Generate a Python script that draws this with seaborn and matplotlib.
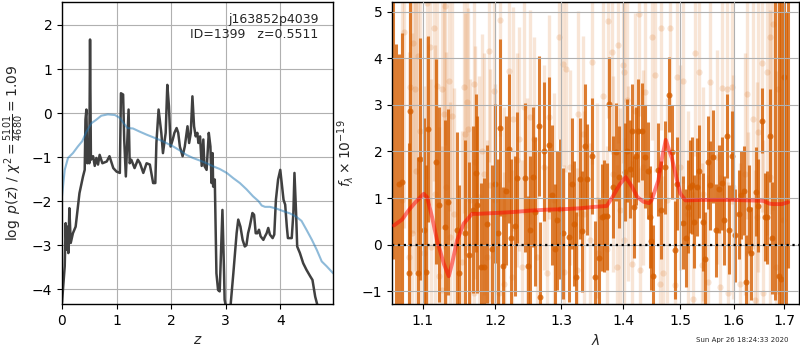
import numpy as np
import pandas as pd
import matplotlib
matplotlib.use("Agg")
import matplotlib.pyplot as plt
import matplotlib.ticker as mticker
import seaborn as sns

# ---- redshift PDF panel -------------------------------------------------
z_grid = [0.0, 0.05, 0.067, 0.085, 0.104, 0.116, 0.135, 0.16, 0.2, 0.25, 0.32, 0.385,
          0.416, 0.43, 0.447, 0.465, 0.49, 0.5, 0.514, 0.53, 0.57, 0.6, 0.63, 0.66,
          0.69, 0.74, 0.82, 0.87, 0.94, 1.0, 1.06, 1.08, 1.12, 1.14, 1.17, 1.19, 1.22,
          1.24, 1.27, 1.33, 1.39, 1.43, 1.49, 1.55, 1.61, 1.67, 1.71, 1.73, 1.77, 1.82,
          1.85, 1.9, 1.93, 1.96, 1.99, 2.03, 2.06, 2.1, 2.13, 2.16, 2.21, 2.25, 2.3,
          2.33, 2.36, 2.39, 2.42, 2.45, 2.48, 2.5, 2.53, 2.56, 2.59, 2.61, 2.65, 2.69,
          2.72, 2.74, 2.76, 2.77, 2.8, 2.83, 2.86, 2.89, 2.91, 2.94, 2.97, 2.98, 3.02,
          3.08, 3.14, 3.2, 3.23, 3.27, 3.31, 3.35, 3.38, 3.41, 3.44, 3.49, 3.52, 3.55,
          3.58, 3.61, 3.64, 3.69, 3.72, 3.75, 3.78, 3.81, 3.86, 3.89, 3.92, 3.96, 4.0,
          4.03, 4.06, 4.09, 4.12, 4.14, 4.18, 4.21, 4.24, 4.26, 4.29, 4.31, 4.36, 4.42,
          4.48, 4.55, 4.59, 4.64, 4.68, 4.72]
log_pz = [-4.3, -3.48, -2.5, -3.1, -2.58, -3.18, -2.16, -2.95, -2.73, -2.58, -1.82, -1.44,
          -1.29, -0.15, 0.08, -1.14, -0.6, -1.14, 1.67, -1.06, -0.98, -1.2, -1.02, -1.17,
          -0.95, -1.14, -1.1, -0.98, -1.25, -1.33, -1.36, 0.45, 0.42, -0.6, -1.44, -0.83, 0.08,
          -1.14, -1.06, -1.25, -1.06, -1.14, -1.36, -1.14, -1.17, -1.59, -1.59, -0.68, 0.08, -0.45,
          -0.91, -0.45, 0.64, 0.15, -0.76, -0.6, -0.45, -0.34, -0.45, -0.76, -0.98, -0.76, -0.3,
          -0.68, -0.45, 0.38, -0.3, -0.53, -0.45, -0.68, -0.53, -1.2, -0.6, -1.2, -1.29, -0.45,
          -0.76, -1.59, -0.91, -1.67, -1.51, -3.64, -4.02, -4.05, -3.33, -2.2, -3.64, -4.24, -4.5,
          -4.5, -3.64, -2.73, -2.42, -2.58, -2.88, -3.03, -3.0, -2.73, -2.58, -2.27, -2.31, -2.73,
          -2.73, -2.65, -2.8, -2.88, -2.8, -2.73, -2.61, -2.76, -2.84, -2.76, -1.97, -1.51, -1.29,
          -1.63, -1.97, -2.08, -2.58, -2.84, -2.84, -2.84, -2.27, -1.36, -2.27, -3.03, -3.18, -3.41,
          -3.56, -3.71, -3.79, -4.17, -4.36, -4.6]

z_prior = [0.0, 0.05, 0.11, 0.2, 0.29, 0.37, 0.45, 0.54, 0.63, 0.72, 0.84, 0.97, 1.06,
           1.13, 1.2, 1.3, 1.42, 1.55, 1.67, 1.79, 1.91, 2.04, 2.16, 2.28, 2.4, 2.53,
           2.65, 2.77, 2.89, 3.02, 3.14, 3.26, 3.38, 3.5, 3.6, 3.66, 3.72, 3.81, 3.93,
           4.06, 4.18, 4.3, 4.39, 4.48, 4.58, 4.67, 4.76, 4.85, 4.97]
log_prior = [-1.89, -1.29, -1.02, -0.91, -0.76, -0.64, -0.42, -0.23, -0.15, -0.06, -0.03,
             -0.045, -0.11, -0.23, -0.34, -0.35, -0.42, -0.49, -0.55, -0.61, -0.68, -0.76,
             -0.85, -0.95, -1.02, -1.08, -1.14, -1.21, -1.27, -1.36, -1.48, -1.59, -1.73,
             -1.89, -2.0, -2.1, -2.13, -2.13, -2.17, -2.23, -2.28, -2.36, -2.45, -2.65,
             -2.88, -3.11, -3.37, -3.48, -3.64]

# ---- 1D spectrum panel ---------------------------------------------------
binned_wave = [1.0615, 1.0655, 1.0690, 1.0722, 1.0825, 1.0838, 1.0934, 1.0960, 1.1013, 1.1049,
               1.1075, 1.1182, 1.1214, 1.1305, 1.1336, 1.1464, 1.1487, 1.1579, 1.1626, 1.1686,
               1.1728, 1.1747, 1.1799, 1.1847, 1.1885, 1.1962, 1.1995, 1.2043, 1.2067, 1.2111,
               1.2159, 1.2203, 1.2228, 1.2287, 1.2321, 1.2435, 1.2480, 1.2521, 1.2556, 1.2596,
               1.2646, 1.2672, 1.2728, 1.2810, 1.2846, 1.2892, 1.2933, 1.2980, 1.3032, 1.3111,
               1.3164, 1.3190, 1.3233, 1.3286, 1.3329, 1.3377, 1.3414, 1.3495, 1.3543, 1.3598,
               1.3647, 1.3685, 1.3729, 1.3773, 1.3829, 1.3879, 1.3929, 1.4041, 1.4063, 1.4120,
               1.4148, 1.4188, 1.4216, 1.4262, 1.4319, 1.4377, 1.4434, 1.4463, 1.4475, 1.4521,
               1.4609, 1.4656, 1.4727, 1.4798, 1.4846, 1.4905, 1.4947, 1.5043, 1.5097, 1.5134,
               1.5176, 1.5207, 1.5256, 1.5299, 1.5342, 1.5410, 1.5453, 1.5502, 1.5552, 1.5608,
               1.5658, 1.5709, 1.5765, 1.5816, 1.5866, 1.5910, 1.5962, 1.6027, 1.6091, 1.6137,
               1.6188, 1.6234, 1.6299, 1.6338, 1.6424, 1.6476, 1.6555, 1.6608, 1.6655, 1.6715,
               1.6761, 1.6809, 1.6890, 1.6931, 1.6993, 1.7040, 1.7074]
binned_flux = [6.2, -2.2, 1.30, 1.34, -0.62, 2.86, -0.62, 1.84, 0.31, -0.59,
               2.49, 1.78, 0.86, 0.38, 0.91, 0.31, -0.62, 0.24, -0.23, 0.75,
               1.54, 0.86, -0.48, -0.48, 0.45, -0.09, 1.31, 0.24, 2.51, -0.46,
               1.16, 2.06, 0.14, 0.40, 1.44, 1.44, -0.46, 0.31, 1.45, 0.71,
               2.55, -1.12, 2.00, 2.14, 1.07, -0.10, 0.52, 0.77, 0.24, 0.16,
               1.31, 0.45, -0.69, 1.41, 0.29, 2.11, 1.40, 1.91, -0.69, -0.28,
               0.59, 0.61, 0.61, 3.02, 1.24, 1.99, 1.45, 1.56, 2.02, 1.63,
               2.45, 0.81, 1.91, 2.45, 2.43, 1.89, 1.59, 0.59, 0.07, -0.68,
               1.61, 0.75, 1.66, 3.22, 1.99, -0.11, 1.31, 0.47, 0.14, 0.81,
               1.24, 1.27, 0.49, 1.24, 1.58, 0.49, -0.30, 1.77, 1.27, 1.89,
               0.31, 1.20, 1.32, 0.52, 2.34, 0.32, 1.91, 0.20, 0.65, 1.06,
               1.16, -0.80, 0.77, -0.19, 1.14, 0.83, 2.66, 0.59, 0.59, 2.34,
               0.14, 5.8, -0.68, -0.75, 3.59, -2.0, 6.5]
binned_err = [6.5, 6.5, 2.8, 3.2, 2.8, 2.9, 2.5, 2.6, 2.4, 2.3,
              2.0, 2.2, 2.1, 2.3, 2.0, 2.1, 1.9, 2.0, 2.0, 1.8,
              1.7, 1.9, 1.8, 1.9, 1.7, 1.8, 1.7, 1.6, 1.9, 1.7,
              1.6, 1.6, 1.7, 1.5, 1.4, 1.6, 1.5, 1.6, 1.5, 1.6,
              1.5, 1.6, 1.5, 1.45, 1.5, 1.4, 1.5, 1.5, 1.4, 1.4,
              1.4, 1.35, 1.4, 1.3, 1.3, 1.35, 1.2, 1.25, 1.2, 1.25,
              1.15, 1.2, 1.15, 1.0, 1.1, 1.05, 1.1, 1.05, 1.1, 1.05,
              1.0, 1.1, 1.05, 1.1, 1.05, 1.1, 1.05, 1.1, 1.05, 1.1,
              1.0, 1.05, 1.0, 0.8, 1.0, 1.05, 1.0, 1.0, 1.05, 1.0,
              1.0, 1.05, 1.0, 1.05, 1.0, 1.05, 1.0, 1.0, 0.95, 1.0,
              1.0, 0.95, 1.0, 0.95, 0.9, 0.95, 0.95, 1.0, 0.95, 0.95,
              0.95, 1.0, 0.95, 1.0, 0.95, 1.0, 0.7, 0.95, 1.0, 1.0,
              1.2, 7.0, 6.0, 6.0, 6.0, 7.0, 7.0]

pixel_wave = [1.0731, 1.0752, 1.0816, 1.0838, 1.0860, 1.0869, 1.0904, 1.0910, 1.0934, 1.0960,
              1.1013, 1.1058, 1.1060, 1.1102, 1.1104, 1.1147, 1.1169, 1.1191, 1.1214, 1.1259,
              1.1261, 1.1282, 1.1305, 1.1307, 1.1350, 1.1372, 1.1395, 1.1418, 1.1533, 1.1556,
              1.1579, 1.1603, 1.1612, 1.1649, 1.1695, 1.1697, 1.1719, 1.1766, 1.1813, 1.1837,
              1.1885, 1.1909, 1.1933, 1.1981, 1.2005, 1.2053, 1.2077, 1.2125, 1.2127, 1.2198,
              1.2248, 1.2262, 1.2321, 1.2345, 1.2395, 1.2420, 1.2470, 1.2521, 1.2571, 1.2621,
              1.2723, 1.2774, 1.2799, 1.2877, 1.2954, 1.3032, 1.3034, 1.3074, 1.3138, 1.3243,
              1.3259, 1.3334, 1.3350, 1.3457, 1.3495, 1.3565, 1.3592, 1.3663, 1.3729, 1.3756,
              1.3812, 1.3840, 1.3896, 1.3924, 1.3951, 1.4007, 1.4009, 1.4015, 1.4063, 1.4092,
              1.4148, 1.4205, 1.4279, 1.4290, 1.4348, 1.4377, 1.4492, 1.4551, 1.4639, 1.4656,
              1.4698, 1.4757, 1.4816, 1.4905, 1.4935, 1.4995, 1.5055, 1.5146, 1.5237, 1.5268,
              1.5348, 1.5391, 1.5422, 1.5515, 1.5546, 1.5671, 1.5733, 1.5765, 1.5860, 1.5891,
              1.5955, 1.5988, 1.6117, 1.6215, 1.6247, 1.6280, 1.6378, 1.6411, 1.6443, 1.6476,
              1.6542, 1.6575, 1.6642, 1.6708, 1.6710, 1.6775, 1.6842, 1.6876, 1.6945, 1.6979]
pixel_flux = [0.95, 4.56, -0.26, 3.38, 0.24, 4.34, 3.34, 1.59, 4.06, 2.45,
              -0.19, 5.20, 0.95, 4.24, -0.05, 4.66, 1.09, 3.41, -0.68, 3.34,
              -0.98, 2.81, 5.13, 1.24, 3.52, 0.16, 2.77, 0.66, -0.37, 3.38,
              2.38, 3.06, 2.49, 0.95, 3.45, -1.05, 1.77, 1.02, 2.02, 1.52,
              -0.26, 4.17, 1.27, 3.31, 0.95, -1.05, 4.83, -0.84, 0.66, 3.74,
              -0.69, 2.70, 1.81, 2.27, -0.48, 2.95, 0.74, 2.74, 2.27, -0.26,
              1.66, -0.62, 2.74, 0.95, 4.46, 3.88, -0.59, 3.77, 1.66, -0.55,
              2.81, 2.38, 0.66, 0.09, 3.93, 0.95, -0.19, 3.20, -0.09, 4.81,
              4.14, 1.52, -0.48, 4.29, 0.74, 3.86, 0.09, 3.70, 3.11, 1.31,
              -0.41, 2.88, 4.96, -0.55, 1.66, 3.27, 4.45, 3.65, -0.84, 4.66,
              -0.62, 0.95, 4.65, -0.87, 3.59, 1.66, 3.52, 0.66, -1.16, 4.11,
              3.70, -0.44, 1.09, -0.80, 3.49, 1.88, -0.91, 3.36, 3.34, -1.05,
              3.38, 1.24, -0.84, 1.52, 3.24, -0.19, 2.70, -1.19, 0.59, 2.41,
              3.91, -1.05, 3.70, 4.45, 1.45, 4.74, -0.48, 3.34, 5.09, 0.52]
pixel_err = [4.5, 4.2, 4.4, 4.0, 4.3, 4.1, 3.9, 4.0, 3.8, 3.7,
             3.6, 3.8, 3.5, 3.4, 3.6, 3.3, 3.2, 3.1, 3.2, 3.0,
             3.1, 2.9, 3.0, 2.9, 2.8, 2.9, 2.8, 2.7, 2.8, 2.7,
             2.6, 2.7, 2.6, 2.6, 2.7, 2.6, 2.5, 2.6, 2.5, 2.6,
             2.5, 2.4, 2.5, 2.4, 2.5, 2.4, 2.5, 2.4, 2.3, 2.4,
             2.3, 2.4, 2.3, 2.4, 2.3, 2.3, 2.4, 2.3, 2.2, 2.3,
             2.2, 2.3, 2.2, 2.3, 2.2, 2.2, 2.3, 2.2, 2.1, 2.2,
             2.2, 2.1, 2.2, 2.1, 2.2, 2.1, 2.2, 2.1, 2.2, 2.1,
             2.2, 2.1, 2.2, 2.1, 2.2, 2.1, 2.2, 2.1, 2.2, 2.1,
             2.2, 2.1, 2.2, 2.2, 2.1, 2.2, 2.2, 2.1, 2.2, 2.2,
             2.1, 2.2, 2.2, 2.2, 2.1, 2.2, 2.2, 2.2, 2.3, 2.2,
             2.3, 2.2, 2.3, 2.3, 2.2, 2.3, 2.4, 2.3, 2.4, 2.4,
             2.5, 2.4, 2.6, 2.6, 2.7, 2.6, 2.8, 2.8, 2.9, 3.0,
             3.2, 3.3, 3.5, 3.8, 3.6, 4.0, 4.2, 4.4, 4.6, 4.5]

model_wave = [1.0624, 1.0731, 1.0816, 1.0904, 1.1013, 1.1058, 1.1124, 1.1191, 1.1282, 1.1350,
              1.1395, 1.1464, 1.1556, 1.1672, 1.1742, 1.2029, 1.2272, 1.2521, 1.2774, 1.3032,
              1.3296, 1.3522, 1.3729, 1.3823, 1.3950, 1.4046, 1.4150, 1.4245, 1.4350, 1.4446,
              1.4490, 1.4609, 1.4680, 1.4740, 1.4850, 1.4941, 1.5000, 1.5091, 1.5400, 1.5700,
              1.5962, 1.6300, 1.6575, 1.6700, 1.6775, 1.6950, 1.7080]
model_flux = [0.41, 0.54, 0.74, 0.91, 1.09, 1.02, 0.59, 0.09, -0.41, -0.68,
              -0.41, 0.09, 0.45, 0.66, 0.66, 0.68, 0.70, 0.73, 0.75, 0.76,
              0.78, 0.81, 0.83, 1.02, 1.30, 1.45, 1.25, 1.02, 0.92, 0.89,
              0.95, 1.38, 1.90, 2.25, 1.85, 1.38, 1.10, 0.95, 0.96, 0.96,
              0.96, 0.95, 0.94, 0.88, 0.87, 0.87, 0.91]

wave_ticks = [1.1, 1.2, 1.3, 1.4, 1.5, 1.6, 1.7]
title_lines = ["j163852p4039", "ID=1399   z=0.5511"]
stamp = "Sun Apr 26 18:24:33 2020"

# ---- figure --------------------------------------------------------------
sns.set_style("ticks")
plt.rcParams["font.family"] = ["DejaVu Sans"]
plt.rcParams["axes.edgecolor"] = "black"
plt.rcParams["xtick.color"] = "black"
plt.rcParams["ytick.color"] = "black"

fig = plt.figure(figsize=(8, 3.5), dpi=100)
ax_z = fig.add_axes([0.0775, 0.131, 0.339, 0.863])
ax_s = fig.add_axes([0.49, 0.131, 0.509, 0.863])

grism = (0.835, 0.369, 0.0)

# p(z)
pz_df = pd.DataFrame({"z": z_grid, "lnp": log_pz})
prior_df = pd.DataFrame({"z": z_prior, "lnp": log_prior})
sns.lineplot(data=pz_df, x="z", y="lnp", ax=ax_z, color="0.25", lw=1.8,
             sort=False, estimator=None)
sns.lineplot(data=prior_df, x="z", y="lnp", ax=ax_z, color="#1f77b4", alpha=0.5,
             lw=1.5, sort=False, estimator=None)
ax_z.set_xlim(0, 4.97)
ax_z.set_ylim(-4.34, 2.52)
ax_z.set_xticks([0, 1, 2, 3, 4])
ax_z.set_yticks([-4, -3, -2, -1, 0, 1, 2])
ax_z.grid(True, color="#b0b0b0", lw=0.8)
ax_z.set_xlabel("$z$", fontsize=10)
ax_z.set_ylabel(r"$\log\ p(z)$ / $\chi^2=\frac{5101}{4680}=1.09$", fontsize=10)
ax_z.text(0.945, 0.965, "\n".join(title_lines), transform=ax_z.transAxes,
          ha="right", va="top", fontsize=9)

# spectrum: individual pixels (pale) and binned points
ax_s.errorbar(pixel_wave, pixel_flux, yerr=pixel_err, color=grism, alpha=0.16,
              marker="o", ms=4.5, mew=0, linestyle="None", elinewidth=2.4,
              capsize=0, zorder=1)
ax_s.errorbar(binned_wave, binned_flux, yerr=binned_err, color=grism, alpha=0.8,
              marker="o", ms=4.3, mew=0, linestyle="None", elinewidth=2.2,
              capsize=0, zorder=2)
model_df = pd.DataFrame({"wave": model_wave, "flux": model_flux})
sns.lineplot(data=model_df, x="wave", y="flux", ax=ax_s, color="red", alpha=0.5,
             lw=2.8, sort=False, estimator=None, zorder=4)
ax_s.axhline(0, color="black", linestyle=":", lw=1.6, zorder=5)

ax_s.set_xscale("log")
ax_s.set_xlim(1.060, 1.731)
ax_s.set_ylim(-1.28, 5.21)
ax_s.xaxis.set_major_locator(mticker.FixedLocator(wave_ticks))
ax_s.xaxis.set_major_formatter(mticker.FormatStrFormatter("%.1f"))
ax_s.xaxis.set_minor_locator(mticker.NullLocator())
ax_s.set_yticks([-1, 0, 1, 2, 3, 4, 5])
ax_s.set_axisbelow(False)
ax_s.grid(True, color="#b0b0b0", lw=0.8, zorder=3)
ax_s.set_xlabel(r"$\lambda$", fontsize=10)
ax_s.set_ylabel(r"$f_\lambda\times10^{-19}$", fontsize=10)

for ax in (ax_z, ax_s):
    ax.tick_params(labelsize=10, length=3.5, width=0.8)
    for sp in ax.spines.values():
        sp.set_linewidth(1.0)
        sp.set_visible(True)

fig.text(0.985, 0.02, stamp, ha="right", va="bottom", fontsize=5)

fig.savefig("out.png", dpi=100)
